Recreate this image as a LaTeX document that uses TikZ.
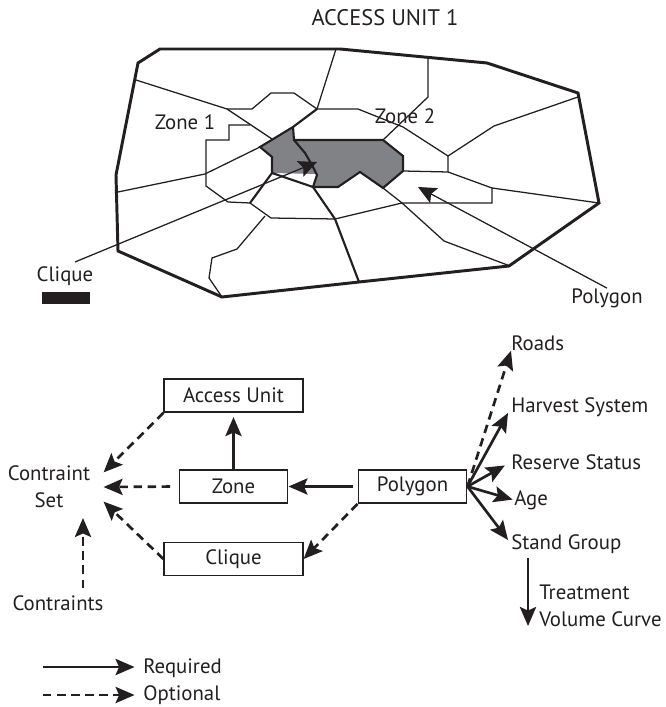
\documentclass[tikz,border=0pt]{standalone}
\usepackage{amssymb,amsmath}
\usepackage{fontspec}
\setmainfont{PT Sans}
\usepackage{tikz}
\usetikzlibrary{arrows.meta}
\definecolor{inkblack}{HTML}{231F20}
\definecolor{polygray}{HTML}{808285}
\tikzset{
    mapthin/.style={inkblack, line width=0.9pt, line join=miter},
    mapmid/.style={inkblack, line width=1.5pt, line join=miter},
    mapthick/.style={inkblack, line width=2.1pt, line join=miter},
    thintip/.style={inkblack, line width=0.9pt, -{Stealth[length=13pt,width=12pt,inset=2.5pt]}},
    reqarrow/.style={inkblack, line width=1.9pt, -{Stealth[length=13.5pt,width=11.5pt,inset=2.5pt]}},
    optarrow/.style={reqarrow, dash pattern=on 6pt off 4pt},
    boxnode/.style={draw=inkblack, line width=1.2pt, minimum height=23.5pt, inner sep=0pt, text=inkblack},
    lab/.style={inner sep=0pt, text=inkblack, font=\fontsize{14.8pt}{19pt}\selectfont},
}
\begin{document}
\begin{tikzpicture}[x=0.025cm, y=-0.025cm]
    \useasboundingbox (0,0) rectangle (665,707);
    % 灰色の領域
    \fill[polygray] (293,127)--(260,147)--(272,157)--(272,173)--(317,174)--(313,187)--(338,187)--(360,172)--(383,188)--(403,171)--(403,156)--(383,140)--(294,140)--cycle;
    % 細い線
    \draw[mapthin] (136,80)--(227,109)--(272,139);
    \draw[mapthin] (227,109)--(252,109)--(271,93)--(294,93)--(317,109)--(336,49);
    \draw[mapthin] (260,147)--(205,174)--(118,192);
    \draw[mapthin] (250,125)--(229,125)--(229,140)--(206,140)--(206,186)--(228,202)--(250,203)--(271,218)--(335,219)--(402,203)--(492,203)--(492,188)--(448,172)--(403,171);
    \draw[mapthin] (492,188)--(599,203);
    \draw[mapthin] (317,109)--(358,109)--(403,127)--(448,156)--(448,172);
    \draw[mapthin] (448,156)--(494,126)--(578,97);
    \draw[mapthin] (383,140)--(428,97)--(428,58);
    \draw[mapthin] (383,188)--(402,203)--(444,241)--(510,266);
    \draw[mapthin] (265,216)--(237,249)--(212,258)--(209,278)--(222,297);
    % 太い線
    \draw[mapmid] (317,109)--(293,127)--(260,147)--(272,157)--(272,173)--(250,203);
    \draw[mapmid] (293,127)--(294,140)--(383,140)--(403,156)--(403,171)--(383,188)--(360,172)--(338,187)--(313,187)--(272,173);
    \draw[mapmid] (294,140)--(305,153)--(312,165)--(317,175)--(313,187)--(335,219)--(359,282);
    \draw[mapthick] (160,49)--(138,63)--(116,175)--(118,251)--(222,297)--(359,282)--(509,266)--(599,203)--(578,93)--(487,63)--(340,49)--cycle;
    % 地図のラベル
    \node[lab, font=\fontsize{16pt}{19pt}\selectfont] (accesstitle) at (385,18) {ACCESS UNIT 1};
    \node[lab] (zoneone) at (185,122) {Zone 1};
    \node[lab] (zonetwo) at (405,116) {Zone 2};
    \node[lab] (cliquelabel) at (65,276) {Clique};
    \node[lab] (polygonlabel) at (607,298) {Polygon};
    \node[fill=inkblack, inner sep=0pt, minimum width=34pt, minimum height=8.5pt] (cliquebar) at (66,298) {};
    \coordinate (cliquetip) at (317,162);
    \coordinate (cliquestart) at (75,262);
    \coordinate (polygontip) at (418,187);
    \draw[thintip] (cliquestart)--(cliquetip);
    \draw[thintip] (polygonlabel.north)--(polygontip);
    % 箱
    \node[boxnode, lab, draw=inkblack, minimum width=98.5pt, minimum height=23.5pt] (accessunit) at (233.5,395.5) {Access Unit};
    \node[boxnode, lab, draw=inkblack, minimum width=77pt, minimum height=23.5pt] (zone) at (233.5,486.5) {Zone};
    \node[boxnode, lab, draw=inkblack, minimum width=98.5pt, minimum height=23.5pt] (clique) at (233.5,559) {Clique};
    \node[boxnode, lab, draw=inkblack, minimum width=77pt, minimum height=23.5pt] (polygon) at (412.5,486.5) {Polygon};
    % 左側
    \node[lab, align=center, inner xsep=9.4pt, minimum height=35pt] (cset) at (49,487) {Contraint\\Set};
    \node[lab, minimum height=21pt] (contraints) at (58,603) {Contraints};
    \draw[optarrow] (accessunit.south west)--(cset.15);
    \draw[optarrow, shorten <=6pt] (zone.west)--(cset.east);
    \draw[optarrow] (clique.west)--(cset.-15);
    \coordinate (csettip) at (83,518);
    \draw[optarrow] (contraints.north -| csettip)--(csettip);
    \draw[reqarrow, shorten >=3pt] (zone.north)--(accessunit.south);
    \draw[reqarrow, shorten <=3pt] (polygon.west)--(zone.east);
    \draw[optarrow] (polygon.south west)--(clique.east);
    % 右側
    \node[lab, anchor=west] (roads) at (511,343) {Roads};
    \node[lab, anchor=west] (harvest) at (511,407) {Harvest System};
    \node[lab, anchor=west] (reserve) at (511,462) {Reserve Status};
    \node[lab, anchor=west] (age) at (514,500) {Age};
    \node[lab, anchor=west] (stand) at (511,544) {Stand Group};
    \node[lab, anchor=west, align=left] (treatment) at (539,606) {Treatment\\Volume Curve};
    \coordinate (harvesttip) at (508,413);
    \coordinate (standtip) at (508,540);
    \coordinate (standlow) at (528,558);
    \coordinate (curvetip) at (528,626);
    \draw[optarrow] (polygon.east)--(roads.south west);
    \draw[reqarrow] (polygon.east)--(harvesttip);
    \draw[reqarrow, shorten >=5pt] (polygon.east)--(reserve.west);
    \draw[reqarrow, shorten >=1pt] (polygon.east)--(age.west);
    \draw[reqarrow] (polygon.east)--(standtip);
    \draw[reqarrow] (standlow)--(curvetip);
    % 凡例
    \node[lab, anchor=west] (required) at (143,668) {Required};
    \node[lab, anchor=west] (optional) at (143,695) {Optional};
    \coordinate (reqstart) at (43,667);
    \coordinate (optstart) at (43,695);
    \draw[reqarrow, shorten >=6pt] (reqstart)--(required.west |- reqstart);
    \draw[optarrow, shorten >=6pt] (optstart)--(optional.west);
\end{tikzpicture}
\end{document}
